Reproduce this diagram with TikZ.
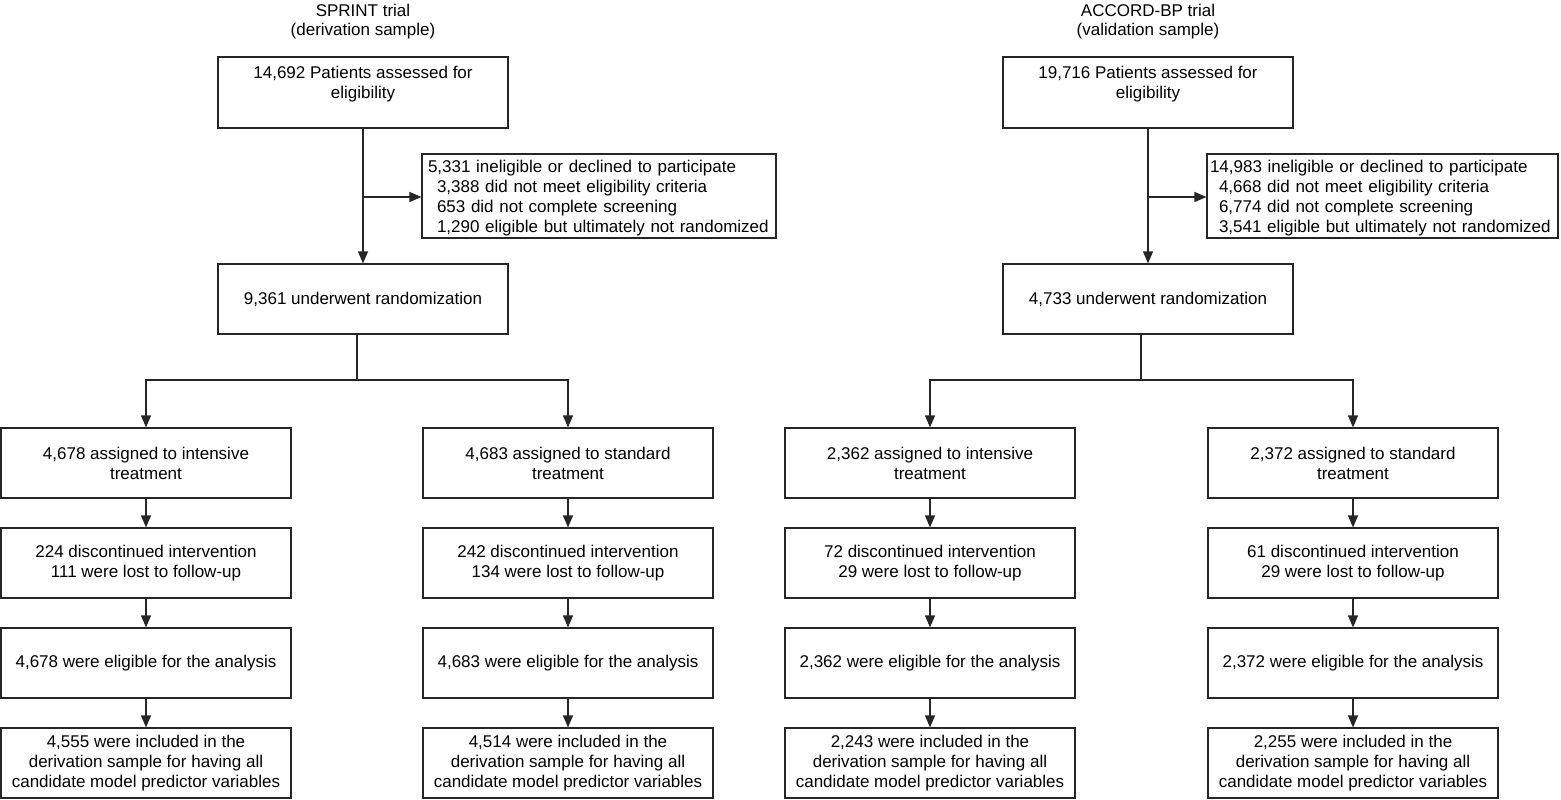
\documentclass[tikz,border=0pt]{standalone}
\usepackage{fontspec}
\setmainfont{Liberation Sans}
\usetikzlibrary{arrows.meta}
\begin{document}
\begin{tikzpicture}[x=1pt,y=-1pt,
  txt/.style={font=\fontsize{17}{20}\selectfont},
  box/.style={txt, draw=black!85, line width=1.2pt, minimum width=290pt, minimum height=70pt, align=center, inner sep=0pt},
  exbox/.style={txt, draw=black!85, line width=1.2pt, minimum height=84pt, align=left, inner ysep=0pt},
  title/.style={txt, align=center, inner sep=0pt, font=\fontsize{17}{19}\selectfont},
  conn/.style={draw=black!85, line width=1.2pt},
  arr/.style={conn, -{Triangle[length=12pt,width=10pt]}}
]
\useasboundingbox (0,0) rectangle (1561,800);

% ---------------- SPRINT ----------------
\node[title] (t1) at (363,21.5) {SPRINT trial\\(derivation sample)};
\node[box, minimum height=71pt] (top1) at (363,92.5) {14,692 Patients assessed for\\eligibility\\\mbox{}};
\node[exbox, text width=342pt, inner xsep=6pt] (ex1) at (599,196) {\rule{0pt}{17pt}5,331 ineligible or declined to participate\\
\hspace*{9pt}3,388 did not meet eligibility criteria\\
\hspace*{9pt}653 did not complete screening\\
\hspace*{9pt}1,290 eligible but ultimately not randomized};
\node[box] (r1) at (363,299) {9,361 underwent randomization};

\node[box] (a1) at (146,463) {4,678 assigned to intensive\\treatment};
\node[box] (b1) at (568,463) {4,683 assigned to standard\\treatment};
\node[box] (a2) at (146,563) {224 discontinued intervention\\111 were lost to follow-up};
\node[box] (b2) at (568,563) {242 discontinued intervention\\134 were lost to follow-up};
\node[box] (a3) at (146,663) {4,678 were eligible for the analysis};
\node[box] (b3) at (568,663) {4,683 were eligible for the analysis};
\node[box] (a4) at (146,763) {4,555 were included in the\\derivation sample for having all\\candidate model predictor variables};
\node[box] (b4) at (568,763) {4,514 were included in the\\derivation sample for having all\\candidate model predictor variables};

\coordinate (j1) at (363,197);
\coordinate (s1) at (357,380);
\draw[arr] (top1.south) -- (r1.north);
\draw[arr] (j1) -- (ex1.west |- j1);
\draw[conn] (r1.south -| s1) -- (s1);
\draw[arr] (s1) -| (a1.north);
\draw[arr] (s1) -| (b1.north);
\draw[arr] (a1) -- (a2);
\draw[arr] (a2) -- (a3);
\draw[arr] (a3) -- (a4);
\draw[arr] (b1) -- (b2);
\draw[arr] (b2) -- (b3);
\draw[arr] (b3) -- (b4);

% ---------------- ACCORD-BP ----------------
\node[title] (t2) at (1148,21.5) {ACCORD-BP trial\\(validation sample)};
\node[box, minimum height=71pt] (top2) at (1148,92.5) {19,716 Patients assessed for\\eligibility\\\mbox{}};
\node[exbox, text width=345pt, inner xsep=3pt] (ex2) at (1382.5,196) {\rule{0pt}{17pt}14,983 ineligible or declined to participate\\
\hspace*{9pt}4,668 did not meet eligibility criteria\\
\hspace*{9pt}6,774 did not complete screening\\
\hspace*{9pt}3,541 eligible but ultimately not randomized};
\node[box] (r2) at (1148,299) {4,733 underwent randomization};

\node[box] (c1) at (930,463) {2,362 assigned to intensive\\treatment};
\node[box] (d1) at (1353,463) {2,372 assigned to standard\\treatment};
\node[box] (c2) at (930,563) {72 discontinued intervention\\29 were lost to follow-up};
\node[box] (d2) at (1353,563) {61 discontinued intervention\\29 were lost to follow-up};
\node[box] (c3) at (930,663) {2,362 were eligible for the analysis};
\node[box] (d3) at (1353,663) {2,372 were eligible for the analysis};
\node[box] (c4) at (930,763) {2,243 were included in the\\derivation sample for having all\\candidate model predictor variables};
\node[box] (d4) at (1353,763) {2,255 were included in the\\derivation sample for having all\\candidate model predictor variables};

\coordinate (j2) at (1148,197);
\coordinate (s2) at (1141,380);
\draw[arr] (top2.south) -- (r2.north);
\draw[arr] (j2) -- (ex2.west |- j2);
\draw[conn] (r2.south -| s2) -- (s2);
\draw[arr] (s2) -| (c1.north);
\draw[arr] (s2) -| (d1.north);
\draw[arr] (c1) -- (c2);
\draw[arr] (c2) -- (c3);
\draw[arr] (c3) -- (c4);
\draw[arr] (d1) -- (d2);
\draw[arr] (d2) -- (d3);
\draw[arr] (d3) -- (d4);
\end{tikzpicture}
\end{document}
